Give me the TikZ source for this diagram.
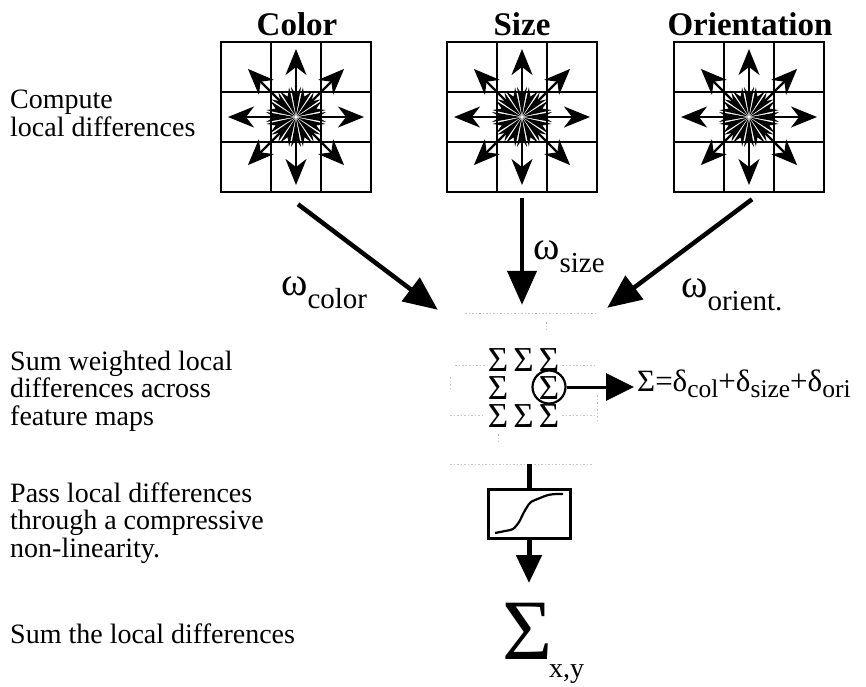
\documentclass[tikz,border=0pt]{standalone}
\usepackage{fontspec}
\setmainfont{Liberation Serif}
\usetikzlibrary{arrows.meta}
\newcommand\omsub[1]{{\fontsize{40}{40}\selectfont ω}\raisebox{-13pt}{\fontsize{29}{29}\selectfont #1}}
\newcommand\dsub[1]{δ\raisebox{-6pt}{\fontsize{25.5}{25.5}\selectfont #1}}
\newcommand\sgcell{\makebox[25.5pt]{Σ}}
\newcommand\sgempty{\makebox[25.5pt]{}}
\newcommand\featuregrid[2]{%
  \begin{scope}[shift={(#1,#2)}]
    \draw[gridline] (-25,-75) -- (-25,75) (25,-75) -- (25,75)
                    (-75,-25) -- (75,-25) (-75,25) -- (75,25);
    \foreach \a in {0,45,...,315}
      \draw[gridarrow] (\a:22) -- (\a:68);
    \foreach \a in {0,22.5,...,337.5}
      \fill[rotate=\a] (1.5,0) -- (30,5) -- (22,0) -- (30,-5) -- cycle;
  \end{scope}}
\begin{document}
\begin{tikzpicture}[x=1pt,y=-1pt,
  gridbox/.style={draw,line width=2.5pt,minimum width=150pt,minimum height=150pt,inner sep=0pt},
  gridline/.style={line width=2.3pt},
  gridarrow/.style={line width=2.2pt,-{Stealth[length=26pt,width=21pt,inset=8pt]}},
  titletext/.style={font=\fontsize{33}{33}\selectfont\bfseries,inner sep=0pt},
  lefttext/.style={font=\fontsize{28}{27.5}\selectfont,align=left,inner sep=0pt,anchor=base west},
  bigarrow/.style={line width=4.5pt,-{Triangle[length=34pt,width=29pt]}},
  faint/.style={draw=gray!45,line width=0.7pt,dash pattern=on 1.5pt off 2pt}]
\useasboundingbox (0,0) rectangle (866,686);

% feature grids
\node[gridbox] (colorg) at (296,117) {};
\node[gridbox] (sizeg) at (522,117) {};
\node[gridbox] (orientg) at (749,117) {};
\featuregrid{296}{117}
\featuregrid{522}{117}
\featuregrid{749}{117}

\node[titletext,anchor=base] (colort) at (297,35) {Color};
\node[titletext,anchor=base] (sizet) at (522,35) {Size};
\node[titletext,anchor=base] (orientt) at (750,35) {Orientation};

% left descriptions (anchor = baseline of last line)
\node[lefttext] (d1) at (10,136) {Compute\\local differences};
\node[lefttext] (d2) at (10,425) {Sum weighted local\\differences across\\feature maps};
\node[lefttext] (d3) at (10,557) {Pass local differences\\through a compressive\\non-linearity.};
\node[lefttext] (d4) at (10,643) {Sum the local differences};

% sum grid
\node[minimum width=147pt,minimum height=151pt,inner sep=0pt] (sumgrid) at (523.5,388.5) {};
\draw[faint] (465,313) -- (597,313);
\draw[faint] (546,322) -- (546,330);
\draw[faint] (455,365) -- (485,365) (562,365) -- (594,365);
\draw[faint] (450,377) -- (450,390) (597,395) -- (597,420);
\draw[faint] (450,415) -- (485,415) (562,415) -- (597,415);
\draw[faint] (498,434) -- (498,442);
\draw[faint] (450,464) -- (592,464);

\node[font=\fontsize{35}{28}\selectfont,align=center,inner sep=0pt,anchor=base] (sigmas) at (523.5,427)
  {\sgcell\sgcell\sgcell\\\sgcell\sgempty\sgcell\\\sgcell\sgcell\sgcell};
\node[draw,circle,line width=2.2pt,minimum size=33pt,inner sep=0pt] (sc) at (549,387) {};

\node[anchor=base west,inner sep=0pt,font=\fontsize{31}{31}\selectfont] (eq) at (637,391)
  {Σ=\dsub{col}+\dsub{size}+\dsub{ori}};
\draw[line width=3pt,-{Triangle[length=28pt,width=27pt]}] (sc.east) -- ([xshift=-3pt]sc.east -| eq.west);

% weighted arrows
\draw[bigarrow] ([shift={(2,11)}]colorg.south) -- ([shift={(-12,-3)}]sumgrid.north west);
\draw[bigarrow] ([shift={(0,5)}]sizeg.south) -- ([shift={(-1.5,-8)}]sumgrid.north);
\draw[bigarrow] ([shift={(3,6)}]orientg.south) -- ([shift={(10,-5)}]sumgrid.north east);

\node[anchor=base west,inner sep=0pt] (wc) at (281,295) {\omsub{color}};
\node[anchor=base west,inner sep=0pt] (ws) at (533,259) {\omsub{size}};
\node[anchor=base west,inner sep=0pt] (wo) at (681,297) {\omsub{orient.}};

% compressive non-linearity
\node[draw,line width=3pt,minimum width=82pt,minimum height=49pt,inner sep=0pt] (nl) at (529,513.5) {};
\draw[line width=5pt] (sumgrid.south -| nl.north) -- (nl.north);
\draw[line width=2.2pt] plot[smooth] coordinates {(495,533) (505,531) (513,529) (519,522) (523,514) (527,507) (531,502) (540,498) (548,495) (556,494) (563,494)};

% final sum
\node[anchor=base west,inner sep=0pt,font=\fontsize{86}{86}\selectfont] (bigsum) at (502,659) {Σ};
\node[anchor=base west,inner sep=0pt,font=\fontsize{28}{28}\selectfont] (xy) at (549,677) {x,y};
\draw[line width=5pt,-{Triangle[length=28pt,width=25pt]}] (nl.south) -- (nl.south |- 0,583);
\end{tikzpicture}
\end{document}
